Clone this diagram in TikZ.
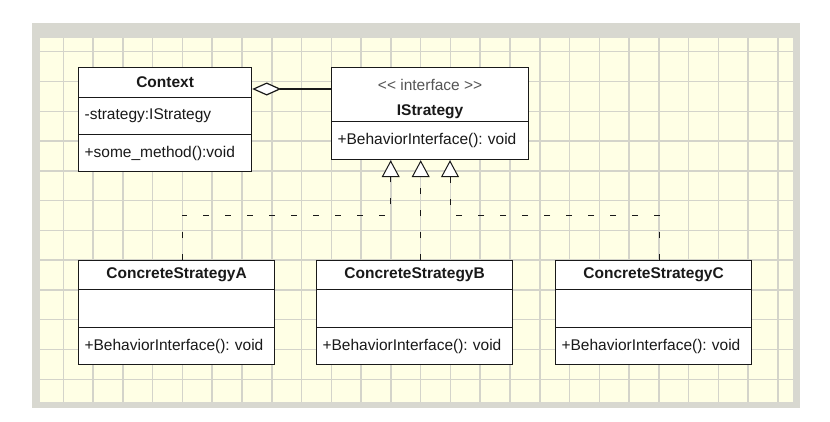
\documentclass[tikz,border=0pt]{standalone}
\usepackage{fontspec}
\setmainfont{Liberation Sans}
\usetikzlibrary{arrows.meta}
\definecolor{framec}{RGB}{216,216,208}
\definecolor{paper}{RGB}{255,255,229}
\definecolor{gridc}{RGB}{212,212,202}
\definecolor{ink}{RGB}{25,25,25}
\definecolor{stereo}{RGB}{85,85,85}
\frenchspacing
\begin{document}
\begin{tikzpicture}[x=1pt,y=-1pt,
  gridline/.style={draw=gridc, line width=1.5pt},
  hd/.style={draw=ink, fill=white, line width=1.2pt, anchor=north west, inner sep=0pt,
    font=\fontsize{15.5}{18}\selectfont\frenchspacing, text=ink},
  mb/.style={draw=ink, fill=white, line width=1.2pt, anchor=north west, inner ysep=0pt,
    inner xsep=6pt, align=left, font=\fontsize{15.5}{18}\selectfont\frenchspacing, text=ink},
  real/.style={draw=ink, line width=1pt, dash pattern=on 6pt off 16pt,
    -{Triangle[length=17pt,width=18pt,fill=white]}},
  agg/.style={draw=ink, line width=1.2pt, {Diamond[length=29pt,width=13pt,fill=white]}-}
]
\useasboundingbox (0,0) rectangle (830,421);
% canvas
\fill[framec] (32,23) rectangle (800,408);
\fill[paper] (40,38) rectangle (793,402);
\foreach \i in {0,...,24} \draw[gridline] ({63.3+29.78*\i},38) -- ++(0,364);
\foreach \j in {0,...,11} \draw[gridline] (40,{51.7+29.78*\j}) -- ++(753,0);

% Context
\node[hd, minimum width=173pt, minimum height=30pt] (ctxH) at (78,67) {\bfseries Context};
\node[mb, text width=161pt, minimum height=37pt] (ctxA) at (78,97) {-strategy:IStrategy};
\node[mb, text width=161pt, minimum height=37pt] (ctxM) at (78,134) {+some\_method():void};

% IStrategy
\node[hd, minimum width=197pt, minimum height=54pt, align=center] (isH) at (331,67)
  {\rule{0pt}{21pt}{\color{stereo}<\kern0pt< interface >\kern0pt>}\\[7pt]\bfseries IStrategy};
\node[mb, text width=185pt, minimum height=38pt] (isM) at (331,121) {+BehaviorInterface(): void};

% Concrete strategies
\node[hd, minimum width=196pt, minimum height=29pt] (aH) at (78,260) {\bfseries ConcreteStrategyA};
\node[mb, text width=184pt, minimum height=38pt] (aA) at (78,289) {};
\node[mb, text width=184pt, minimum height=37pt] (aM) at (78,327) {+BehaviorInterface(): void};

\node[hd, minimum width=196pt, minimum height=29pt] (bH) at (316,260) {\bfseries ConcreteStrategyB};
\node[mb, text width=184pt, minimum height=38pt] (bA) at (316,289) {};
\node[mb, text width=184pt, minimum height=37pt] (bM) at (316,327) {+BehaviorInterface(): void};

\node[hd, minimum width=196pt, minimum height=29pt] (cH) at (555,260) {\bfseries ConcreteStrategyC};
\node[mb, text width=184pt, minimum height=38pt] (cA) at (555,289) {};
\node[mb, text width=184pt, minimum height=37pt] (cM) at (555,327) {+BehaviorInterface(): void};

% aggregation
\coordinate (ag) at (0,89);
\draw[agg] (ctxH.east |- ag) -- (isH.west |- ag);

% realizations
\coordinate (jA) at (182.3,215);
\coordinate (kA) at (390.7,215);
\coordinate (kB) at (420.7,215);
\coordinate (kC) at (450,215);
\coordinate (jC) at (659,215);
\draw[real] (aH.north -| jA) -- (jA) -- (kA) -- (kA |- isM.south);
\draw[real] (bH.north -| kB) -- (kB |- isM.south);
\draw[real] (cH.north -| jC) -- (jC) -- (kC) -- (kC |- isM.south);
\end{tikzpicture}
\end{document}
